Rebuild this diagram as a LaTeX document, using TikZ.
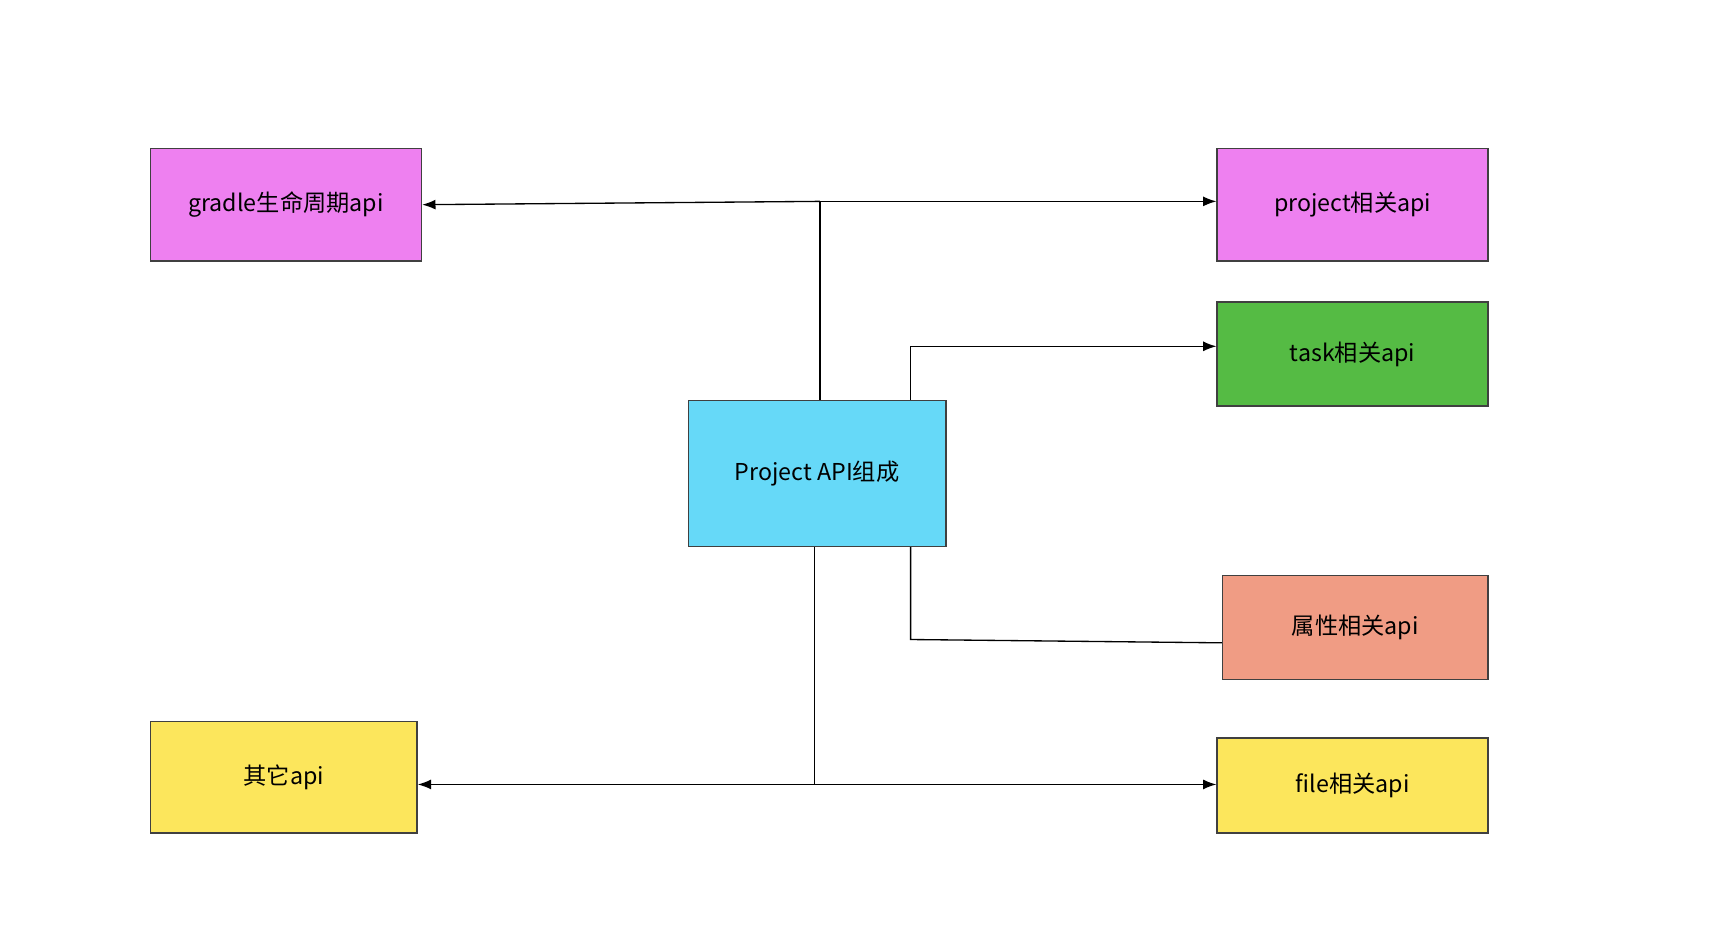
\documentclass[tikz,border=0pt]{standalone}
\usepackage{fontspec}
\setmainfont{Noto Sans CJK SC}
\usetikzlibrary{arrows.meta}
\definecolor{mag}{HTML}{EE80F0}
\definecolor{grn}{HTML}{55BB44}
\definecolor{cyn}{HTML}{66D9F8}
\definecolor{sal}{HTML}{F09C84}
\definecolor{yel}{HTML}{FCE65C}
\begin{document}
\begin{tikzpicture}[x=1pt,y=-1pt,
  box/.style={draw=black!75,line width=1.2pt,minimum width=#1,inner sep=0pt,font=\fontsize{21}{24}\selectfont},
  ln/.style={line width=1.2pt},
  ar/.style={ln,-{Latex[length=12pt,width=9pt]}}]
\useasboundingbox (0,0) rectangle (1560,841);
\node[box=245pt,minimum height=102pt,fill=mag] (g) at (258.5,185) {gradle生命周期api};
\node[box=245pt,minimum height=102pt,fill=mag] (p) at (1222.5,185) {project相关api};
\node[box=245pt,minimum height=94pt,fill=grn] (t) at (1222.5,320) {task相关api};
\node[box=233pt,minimum height=132pt,fill=cyn] (c) at (738.5,428) {Project API组成};
\node[box=240pt,minimum height=94pt,fill=sal] (a) at (1225,567) {属性相关api};
\node[box=241pt,minimum height=101pt,fill=yel] (o) at (256.5,702.5) {其它api};
\node[box=245pt,minimum height=86pt,fill=yel] (f) at (1222.5,710) {file相关api};
\coordinate (j1) at (741,182);
\coordinate (j2) at (823,313);
\coordinate (j3) at (823,578);
\coordinate (j4) at (736,709);
\draw[ln] (c.north -| j1) -- (j1);
\draw[ar] (j1) -- (g.east);
\draw[ar] (j1) -- (p.west |- j1);
\draw[ar] (c.north -| j2) -- (j2) -- (t.west |- j2);
\draw[ln] (c.south -| j3) -- (j3) -- (a.west |- 0,581);
\draw[ln] (c.south -| j4) -- (j4);
\draw[ar] (j4) -- (o.east |- j4);
\draw[ar] (j4) -- (f.west |- j4);
\end{tikzpicture}
\end{document}
